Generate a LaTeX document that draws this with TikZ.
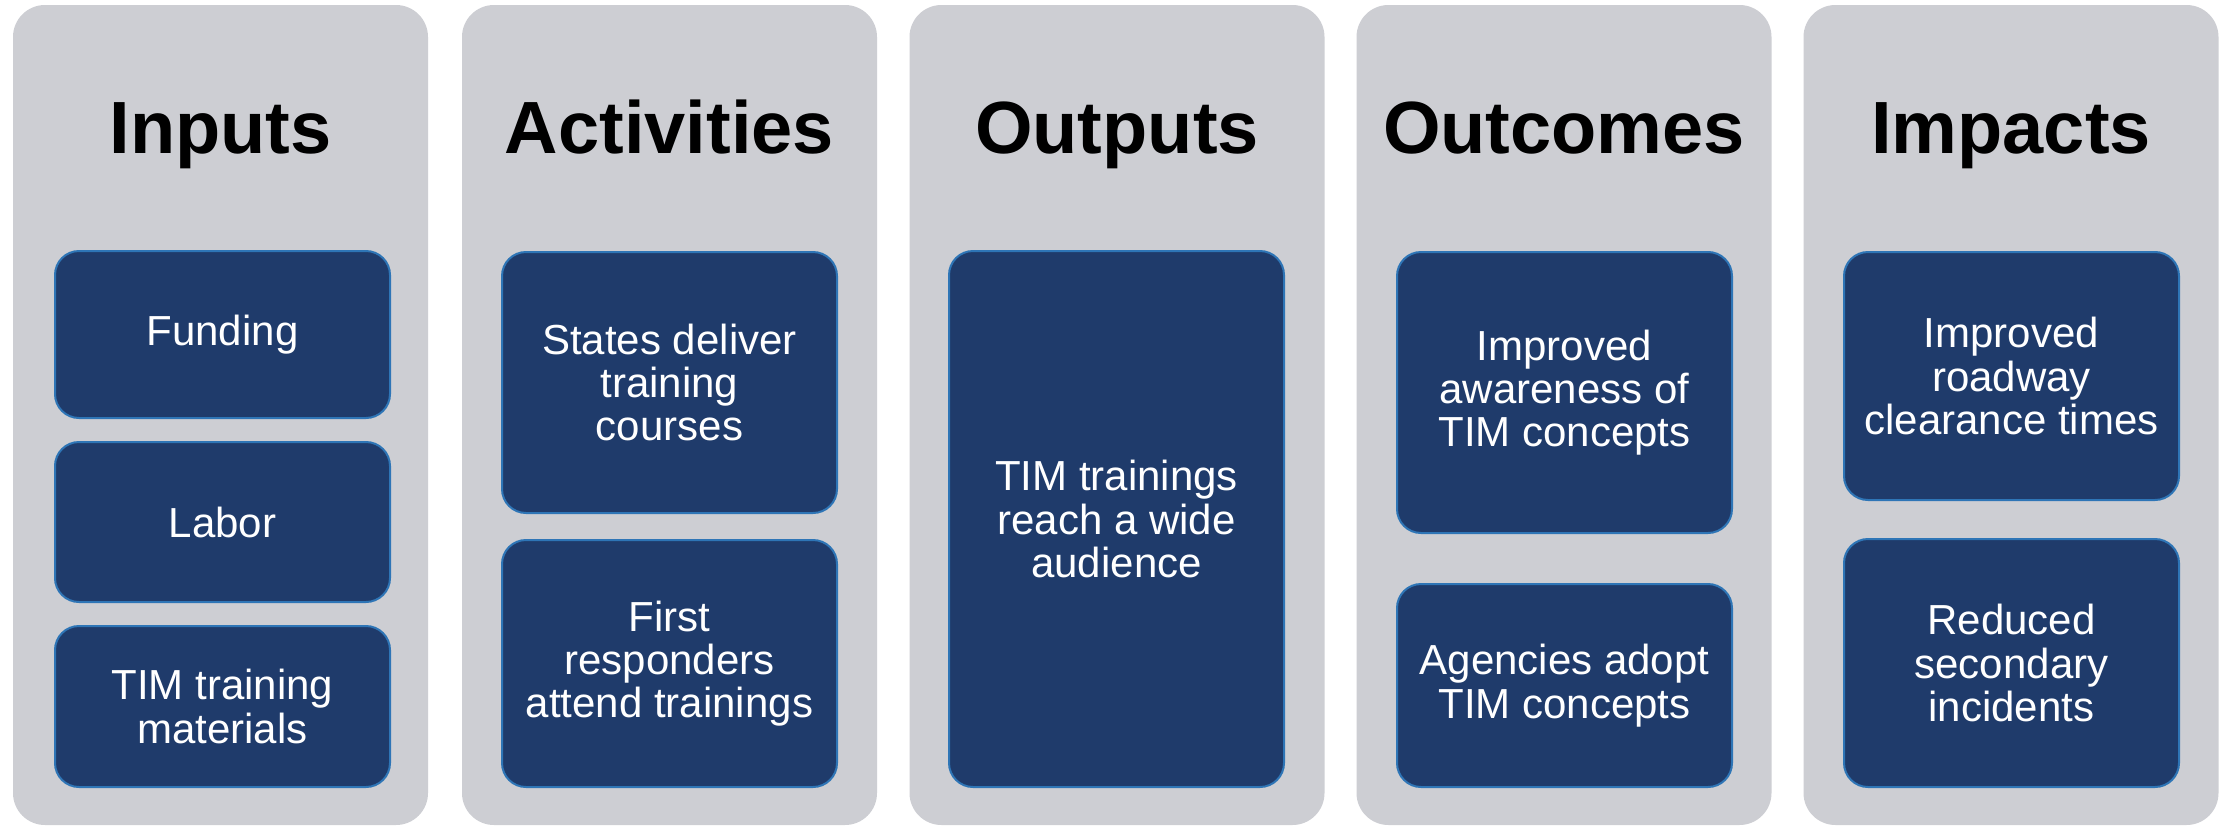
\documentclass[tikz,border=0pt]{standalone}
\usepackage{fontspec}
\setmainfont{Liberation Sans}
\definecolor{colgray}{HTML}{CDCED3}
\definecolor{boxfill}{HTML}{1F3B6B}
\definecolor{boxedge}{HTML}{2E75B6}
\begin{document}
\begin{tikzpicture}[x=0.5pt,y=-0.5pt,
  column/.style={fill=colgray, draw=none, rounded corners=16pt, minimum width=207.5pt, minimum height=410pt, inner sep=0pt},
  coltitle/.style={font=\fontsize{37}{40}\selectfont\bfseries, anchor=base, inner sep=0pt},
  itembox/.style={fill=boxfill, draw=boxedge, line width=1pt, rounded corners=12pt, minimum width=167.5pt, inner sep=0pt, text=white, align=center, font=\fontsize{21}{21.65}\selectfont}]
\useasboundingbox (0,0) rectangle (2223,825);
\fill[white] (0,0) rectangle (2223,825);
% columns
\node[column] (c1) at (220.5,415) {};
\node[column] (c2) at (669.5,415) {};
\node[column] (c3) at (1117,415) {};
\node[column] (c4) at (1564,415) {};
\node[column] (c5) at (2011,415) {};
% titles
\node[coltitle] (t1) at (220.5,153) {Inputs};
\node[coltitle] (t2) at (669.5,153) {Activities};
\node[coltitle] (t3) at (1117,153) {Outputs};
\node[coltitle] (t4) at (1564,153) {Outcomes};
\node[coltitle] (t5) at (2011,153) {Impacts};
% inputs
\node[itembox, minimum height=83.5pt] (i1) at (222.5,334.5) {Funding};
\node[itembox, minimum height=80pt] (i2) at (222.5,522) {Labor};
\node[itembox, minimum height=80.5pt] (i3) at (222.5,706.5) {TIM training\\materials};
% activities
\node[itembox, minimum height=130.5pt] (a1) at (669.5,382.5) {States deliver\\training\\courses};
\node[itembox, minimum height=123.5pt] (a2) at (669.5,663.5) {First\\responders\\attend trainings};
% outputs
\node[itembox, minimum height=268pt] (o1) at (1116.5,519) {TIM trainings\\reach a wide\\audience};
% outcomes
\node[itembox, minimum height=140.5pt] (u1) at (1564.5,392.5) {Improved\\awareness of\\TIM concepts};
\node[itembox, minimum height=101.5pt] (u2) at (1564.5,685.5) {Agencies adopt\\TIM concepts};
% impacts
\node[itembox, minimum height=124pt] (m1) at (2011.5,376) {Improved\\roadway\\clearance times};
\node[itembox, minimum height=124pt] (m2) at (2011.5,663) {Reduced\\secondary\\incidents};
\end{tikzpicture}
\end{document}
